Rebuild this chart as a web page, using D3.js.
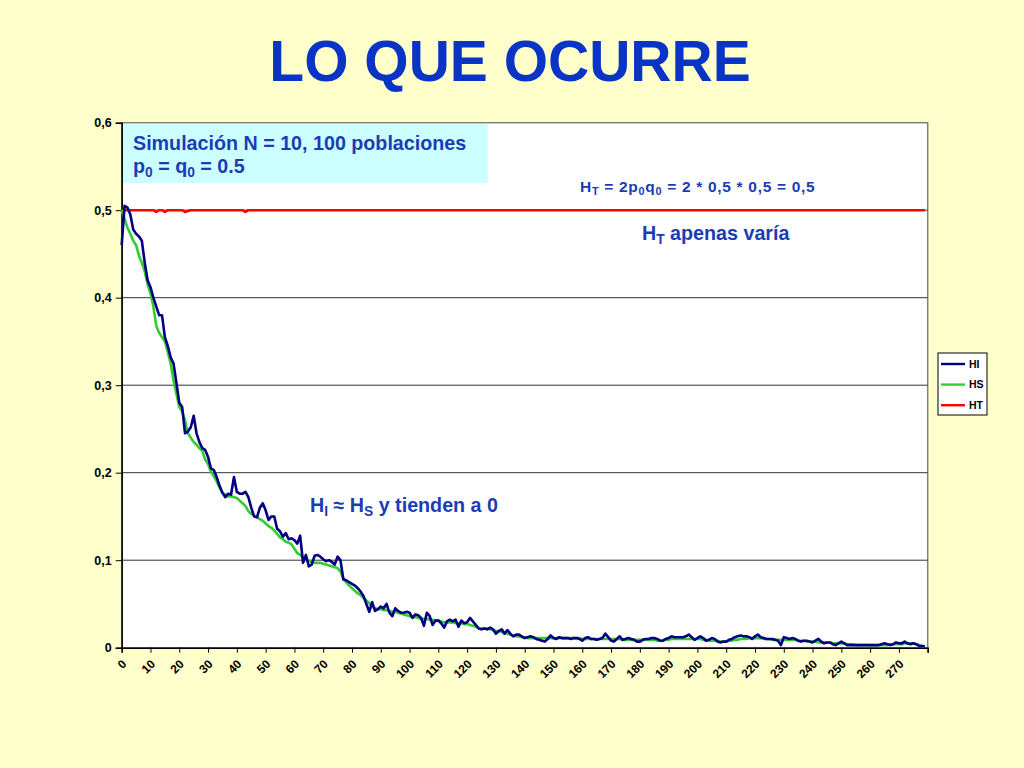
<!DOCTYPE html>
<html><head><meta charset="utf-8">
<script src="https://cdn.jsdelivr.net/npm/d3@7"></script>
<style>html,body{margin:0;padding:0;background:#FFFFCC;}svg{display:block;}</style>
</head><body>
<svg id="c" width="1024" height="768"></svg>
<script>
// ---- data ----
const seriesNames = ["HI", "HS", "HT"];
const xTicks = d3.range(0, 280, 10);
const yTicks = [0, 0.1, 0.2, 0.3, 0.4, 0.5, 0.6];

const HI = [
0.460,0.505,0.503,0.495,0.478,0.473,0.470,0.465,0.440,0.420,
0.412,0.400,0.390,0.380,0.380,0.355,0.345,0.332,0.325,0.303,
0.280,0.275,0.245,0.247,0.252,0.265,0.245,0.235,0.228,0.226,
0.218,0.205,0.203,0.195,0.185,0.177,0.172,0.176,0.175,0.195,
0.178,0.176,0.176,0.178,0.172,0.160,0.150,0.149,0.160,0.165,
0.157,0.146,0.150,0.150,0.136,0.133,0.127,0.131,0.124,0.125,
0.123,0.119,0.128,0.097,0.106,0.093,0.095,0.105,0.106,0.104,
0.101,0.099,0.100,0.098,0.095,0.104,0.100,0.078,0.077,0.075,
0.073,0.071,0.068,0.064,0.059,0.050,0.041,0.052,0.042,0.044,
0.047,0.045,0.050,0.040,0.036,0.045,0.042,0.040,0.040,0.041,
0.040,0.034,0.038,0.037,0.034,0.025,0.040,0.036,0.026,0.031,
0.031,0.028,0.023,0.030,0.032,0.030,0.032,0.024,0.031,0.028,
0.029,0.034,0.030,0.026,0.022,0.021,0.022,0.021,0.023,0.021,
0.016,0.019,0.021,0.016,0.020,0.016,0.013,0.015,0.015,0.013,
0.011,0.012,0.013,0.012,0.010,0.009,0.008,0.007,0.010,0.014,
0.011,0.010,0.012,0.011,0.011,0.011,0.010,0.011,0.011,0.010,
0.008,0.011,0.012,0.010,0.010,0.009,0.010,0.011,0.016,0.012,
0.008,0.007,0.010,0.013,0.009,0.010,0.011,0.010,0.009,0.007,
0.007,0.009,0.010,0.010,0.011,0.011,0.010,0.008,0.008,0.010,
0.011,0.013,0.012,0.012,0.012,0.012,0.013,0.015,0.012,0.009,
0.011,0.013,0.011,0.008,0.009,0.011,0.010,0.007,0.006,0.007,
0.007,0.009,0.010,0.012,0.013,0.014,0.013,0.013,0.012,0.010,
0.013,0.015,0.012,0.011,0.010,0.010,0.010,0.009,0.008,0.003,
0.012,0.011,0.010,0.011,0.010,0.008,0.007,0.008,0.008,0.007,
0.006,0.008,0.010,0.007,0.005,0.006,0.006,0.004,0.003,0.005,
0.007,0.005,0.003,0.003,0.003,0.003,0.003,0.003,0.003,0.003,
0.003,0.003,0.003,0.003,0.004,0.005,0.004,0.003,0.004,0.006,
0.005,0.005,0.007,0.005,0.004,0.005,0.004,0.002,0.002,0.0015
];

const HS = [
0.500,0.490,0.480,0.473,0.465,0.460,0.448,0.440,0.430,0.415,
0.405,0.390,0.368,0.360,0.355,0.350,0.338,0.325,0.305,0.290,
0.275,0.270,0.260,0.245,0.240,0.235,0.232,0.228,0.225,0.215,
0.210,0.201,0.196,0.190,0.183,0.177,0.175,0.173,0.173,0.172,
0.171,0.168,0.165,0.162,0.156,0.153,0.151,0.149,0.147,0.145,
0.142,0.139,0.137,0.134,0.130,0.126,0.124,0.121,0.120,0.118,
0.113,0.108,0.106,0.103,0.101,0.099,0.098,0.097,0.097,0.097,
0.096,0.095,0.094,0.093,0.092,0.091,0.087,0.079,0.075,0.071,
0.068,0.065,0.062,0.060,0.057,0.054,0.051,0.047,0.045,0.044,
0.044,0.043,0.043,0.042,0.041,0.041,0.040,0.039,0.038,0.037,
0.036,0.035,0.035,0.034,0.033,0.033,0.033,0.032,0.032,0.031,
0.031,0.030,0.029,0.029,0.029,0.029,0.028,0.028,0.028,0.027,
0.027,0.026,0.025,0.024,0.022,0.022,0.022,0.022,0.021,0.020,
0.019,0.019,0.018,0.017,0.016,0.015,0.014,0.013,0.013,0.012,
0.012,0.011,0.011,0.011,0.011,0.011,0.011,0.011,0.011,0.011,
0.011,0.011,0.011,0.011,0.011,0.011,0.011,0.011,0.011,0.011,
0.010,0.010,0.010,0.010,0.010,0.010,0.010,0.010,0.010,0.010,
0.010,0.010,0.010,0.010,0.009,0.009,0.009,0.009,0.009,0.009,
0.009,0.009,0.009,0.009,0.009,0.009,0.008,0.008,0.008,0.009,
0.009,0.010,0.010,0.010,0.010,0.010,0.010,0.010,0.010,0.010,
0.010,0.010,0.009,0.009,0.008,0.008,0.008,0.008,0.007,0.007,
0.007,0.008,0.008,0.009,0.009,0.010,0.010,0.010,0.011,0.011,
0.011,0.011,0.011,0.010,0.010,0.010,0.009,0.009,0.009,0.009,
0.009,0.009,0.009,0.009,0.009,0.008,0.008,0.008,0.007,0.007,
0.007,0.007,0.006,0.006,0.006,0.006,0.006,0.005,0.005,0.005,
0.005,0.005,0.004,0.004,0.004,0.003,0.003,0.003,0.003,0.003,
0.003,0.003,0.003,0.003,0.003,0.003,0.003,0.004,0.004,0.004,
0.004,0.004,0.005,0.005,0.005,0.005,0.004,0.003,0.002,0.0015
];

const HT = [
0.500,0.500,0.500,0.500,0.500,0.500,0.500,0.500,0.500,0.500,
0.500,0.500,0.498,0.500,0.500,0.498,0.500,0.500,0.500,0.500,
0.500,0.500,0.498,0.499,0.500,0.500,0.500,0.500,0.500,0.500,
0.500,0.500,0.500,0.500,0.500,0.500,0.500,0.500,0.500,0.500,
0.500,0.500,0.500,0.498,0.500,0.500,0.500,0.500,0.500,0.500,
0.500,0.500,0.500,0.500,0.500,0.500,0.500,0.500,0.500,0.500,
0.500,0.500,0.500,0.500,0.500,0.500,0.500,0.500,0.500,0.500,
0.500,0.500,0.500,0.500,0.500,0.500,0.500,0.500,0.500,0.500,
0.500,0.500,0.500,0.500,0.500,0.500,0.500,0.500,0.500,0.500,
0.500,0.500,0.500,0.500,0.500,0.500,0.500,0.500,0.500,0.500,
0.500,0.500,0.500,0.500,0.500,0.500,0.500,0.500,0.500,0.500,
0.500,0.500,0.500,0.500,0.500,0.500,0.500,0.500,0.500,0.500,
0.500,0.500,0.500,0.500,0.500,0.500,0.500,0.500,0.500,0.500,
0.500,0.500,0.500,0.500,0.500,0.500,0.500,0.500,0.500,0.500,
0.500,0.500,0.500,0.500,0.500,0.500,0.500,0.500,0.500,0.500,
0.500,0.500,0.500,0.500,0.500,0.500,0.500,0.500,0.500,0.500,
0.500,0.500,0.500,0.500,0.500,0.500,0.500,0.500,0.500,0.500,
0.500,0.500,0.500,0.500,0.500,0.500,0.500,0.500,0.500,0.500,
0.500,0.500,0.500,0.500,0.500,0.500,0.500,0.500,0.500,0.500,
0.500,0.500,0.500,0.500,0.500,0.500,0.500,0.500,0.500,0.500,
0.500,0.500,0.500,0.500,0.500,0.500,0.500,0.500,0.500,0.500,
0.500,0.500,0.500,0.500,0.500,0.500,0.500,0.500,0.500,0.500,
0.500,0.500,0.500,0.500,0.500,0.500,0.500,0.500,0.500,0.500,
0.500,0.500,0.500,0.500,0.500,0.500,0.500,0.500,0.500,0.500,
0.500,0.500,0.500,0.500,0.500,0.500,0.500,0.500,0.500,0.500,
0.500,0.500,0.500,0.500,0.500,0.500,0.500,0.500,0.500,0.500,
0.500,0.500,0.500,0.500,0.500,0.500,0.500,0.500,0.500,0.500,
0.500,0.500,0.500,0.500,0.500,0.500,0.500,0.500,0.500,0.500
];

// ---- drawing ----
const FONT = "'Liberation Sans', Arial, Helvetica, sans-serif";
const svg = d3.select("#c");
const W = 1024, H = 768;
const x0 = 121.7, x1 = 927.7, yTop = 122.7, yBot = 647.7;
const x = d3.scaleLinear().domain([0, 280]).range([x0, x1]);
const y = d3.scaleLinear().domain([0, 0.6]).range([yBot, yTop]);
const colors = {HI: "#000080", HS: "#33CC33", HT: "#FF0000"};
const txtBlue = "#1a3cb4";

svg.append("rect").attr("width", W).attr("height", H).attr("fill", "#FFFFCC");

// title
svg.append("text").attr("x", 510).attr("y", 81).attr("text-anchor", "middle")
  .attr("font-family", FONT).attr("font-weight", "bold").attr("font-size", 57)
  .attr("fill", "#0a34c6").text("LO QUE OCURRE");

// plot area
svg.append("rect").attr("x", x0).attr("y", yTop).attr("width", x1 - x0).attr("height", yBot - yTop)
  .attr("fill", "#FFFFFF").attr("stroke", "#808080").attr("stroke-width", 1.5);

// gridlines
svg.append("g").selectAll("line").data(yTicks.filter(d => d > 0 && d < 0.6)).join("line")
  .attr("x1", x0).attr("x2", x1).attr("y1", d => y(d)).attr("y2", d => y(d))
  .attr("stroke", "#333333").attr("stroke-width", 1);

// annotation box (cyan)
svg.append("rect").attr("x", x0 + 1).attr("y", 124).attr("width", 365).attr("height", 59)
  .attr("fill", "#CCFFFF");

// y axis
const yAxis = d3.axisLeft(y).tickValues(yTicks).tickSize(6).tickPadding(4)
  .tickFormat(d => d === 0 ? "0" : d3.format(".1f")(d).replace(".", ","));
const gy = svg.append("g").attr("transform", `translate(${x0},0)`).call(yAxis);
gy.select(".domain").attr("stroke", "#000").attr("stroke-width", 1.5);
gy.selectAll(".tick line").attr("stroke", "#000");
gy.selectAll("text").attr("font-family", FONT).attr("font-weight", "bold")
  .attr("font-size", 12.5).attr("fill", "#000");

// x axis
const xAxis = d3.axisBottom(x).tickValues(xTicks.concat([280])).tickSize(5).tickFormat(d => d === 280 ? "" : d);
const gx = svg.append("g").attr("transform", `translate(0,${yBot})`).call(xAxis);
gx.select(".domain").attr("stroke", "#000").attr("stroke-width", 1.5);
gx.selectAll(".tick line").attr("stroke", "#000");
gx.selectAll("text").attr("font-family", FONT).attr("font-weight", "bold")
  .attr("font-size", 12).attr("fill", "#000")
  .attr("text-anchor", "end").attr("dy", 0).attr("y", 0)
  .attr("transform", "translate(5,17) rotate(-45)");

// lines
const line = d3.line().x((d, i) => x(i)).y(d => y(d));
const plot = svg.append("g");
[["HT", HT], ["HS", HS], ["HI", HI]].forEach(([k, arr]) => {
  plot.append("path").datum(arr).attr("d", line).attr("fill", "none")
    .attr("stroke", colors[k]).attr("stroke-width", 2.6).attr("stroke-linejoin", "round");
});

// legend
const lg = svg.append("g");
lg.append("rect").attr("x", 938).attr("y", 353).attr("width", 49).attr("height", 62)
  .attr("fill", "#FFFFFF").attr("stroke", "#000").attr("stroke-width", 1);
seriesNames.forEach((k, i) => {
  const ly = 364 + i * 20.6;
  lg.append("line").attr("x1", 941).attr("x2", 965).attr("y1", ly).attr("y2", ly)
    .attr("stroke", colors[k]).attr("stroke-width", 2.4);
  lg.append("text").attr("x", 969).attr("y", ly + 3.8).attr("font-family", FONT)
    .attr("font-weight", "bold").attr("font-size", 10.5).attr("fill", "#000").text(k);
});

// annotations
function rich(xp, yp, size, parts, ls) {
  const t = svg.append("text").attr("x", xp).attr("y", yp).attr("font-family", FONT)
    .attr("font-weight", "bold").attr("font-size", size).attr("fill", txtBlue);
  if (ls) t.attr("letter-spacing", ls);
  parts.forEach(p => {
    const s = t.append("tspan").text(p[0]);
    if (p[1] === "sub") s.attr("font-size", size * 0.7).attr("dy", size * 0.22);
    if (p[1] === "back") s.attr("dy", -size * 0.22);
  });
  return t;
}
rich(133, 150, 19.7, [["Simulación N = 10, 100 poblaciones"]]);
rich(133, 173, 19.7, [["p"], ["0", "sub"], [" = q", "back"], ["0", "sub"], [" = 0.5", "back"]]);
rich(580, 192, 15.5, [["H"], ["T", "sub"], [" = 2p", "back"], ["0", "sub"], ["q", "back"], ["0", "sub"], [" = 2 * 0,5 * 0,5 = 0,5", "back"]], 0.7);
rich(642, 240, 19.7, [["H"], ["T", "sub"], [" apenas varía", "back"]]);
rich(310, 512, 19.7, [["H"], ["I", "sub"], [" ≈ H", "back"], ["S", "sub"], [" y tienden a 0", "back"]]);
</script>
</body></html>
